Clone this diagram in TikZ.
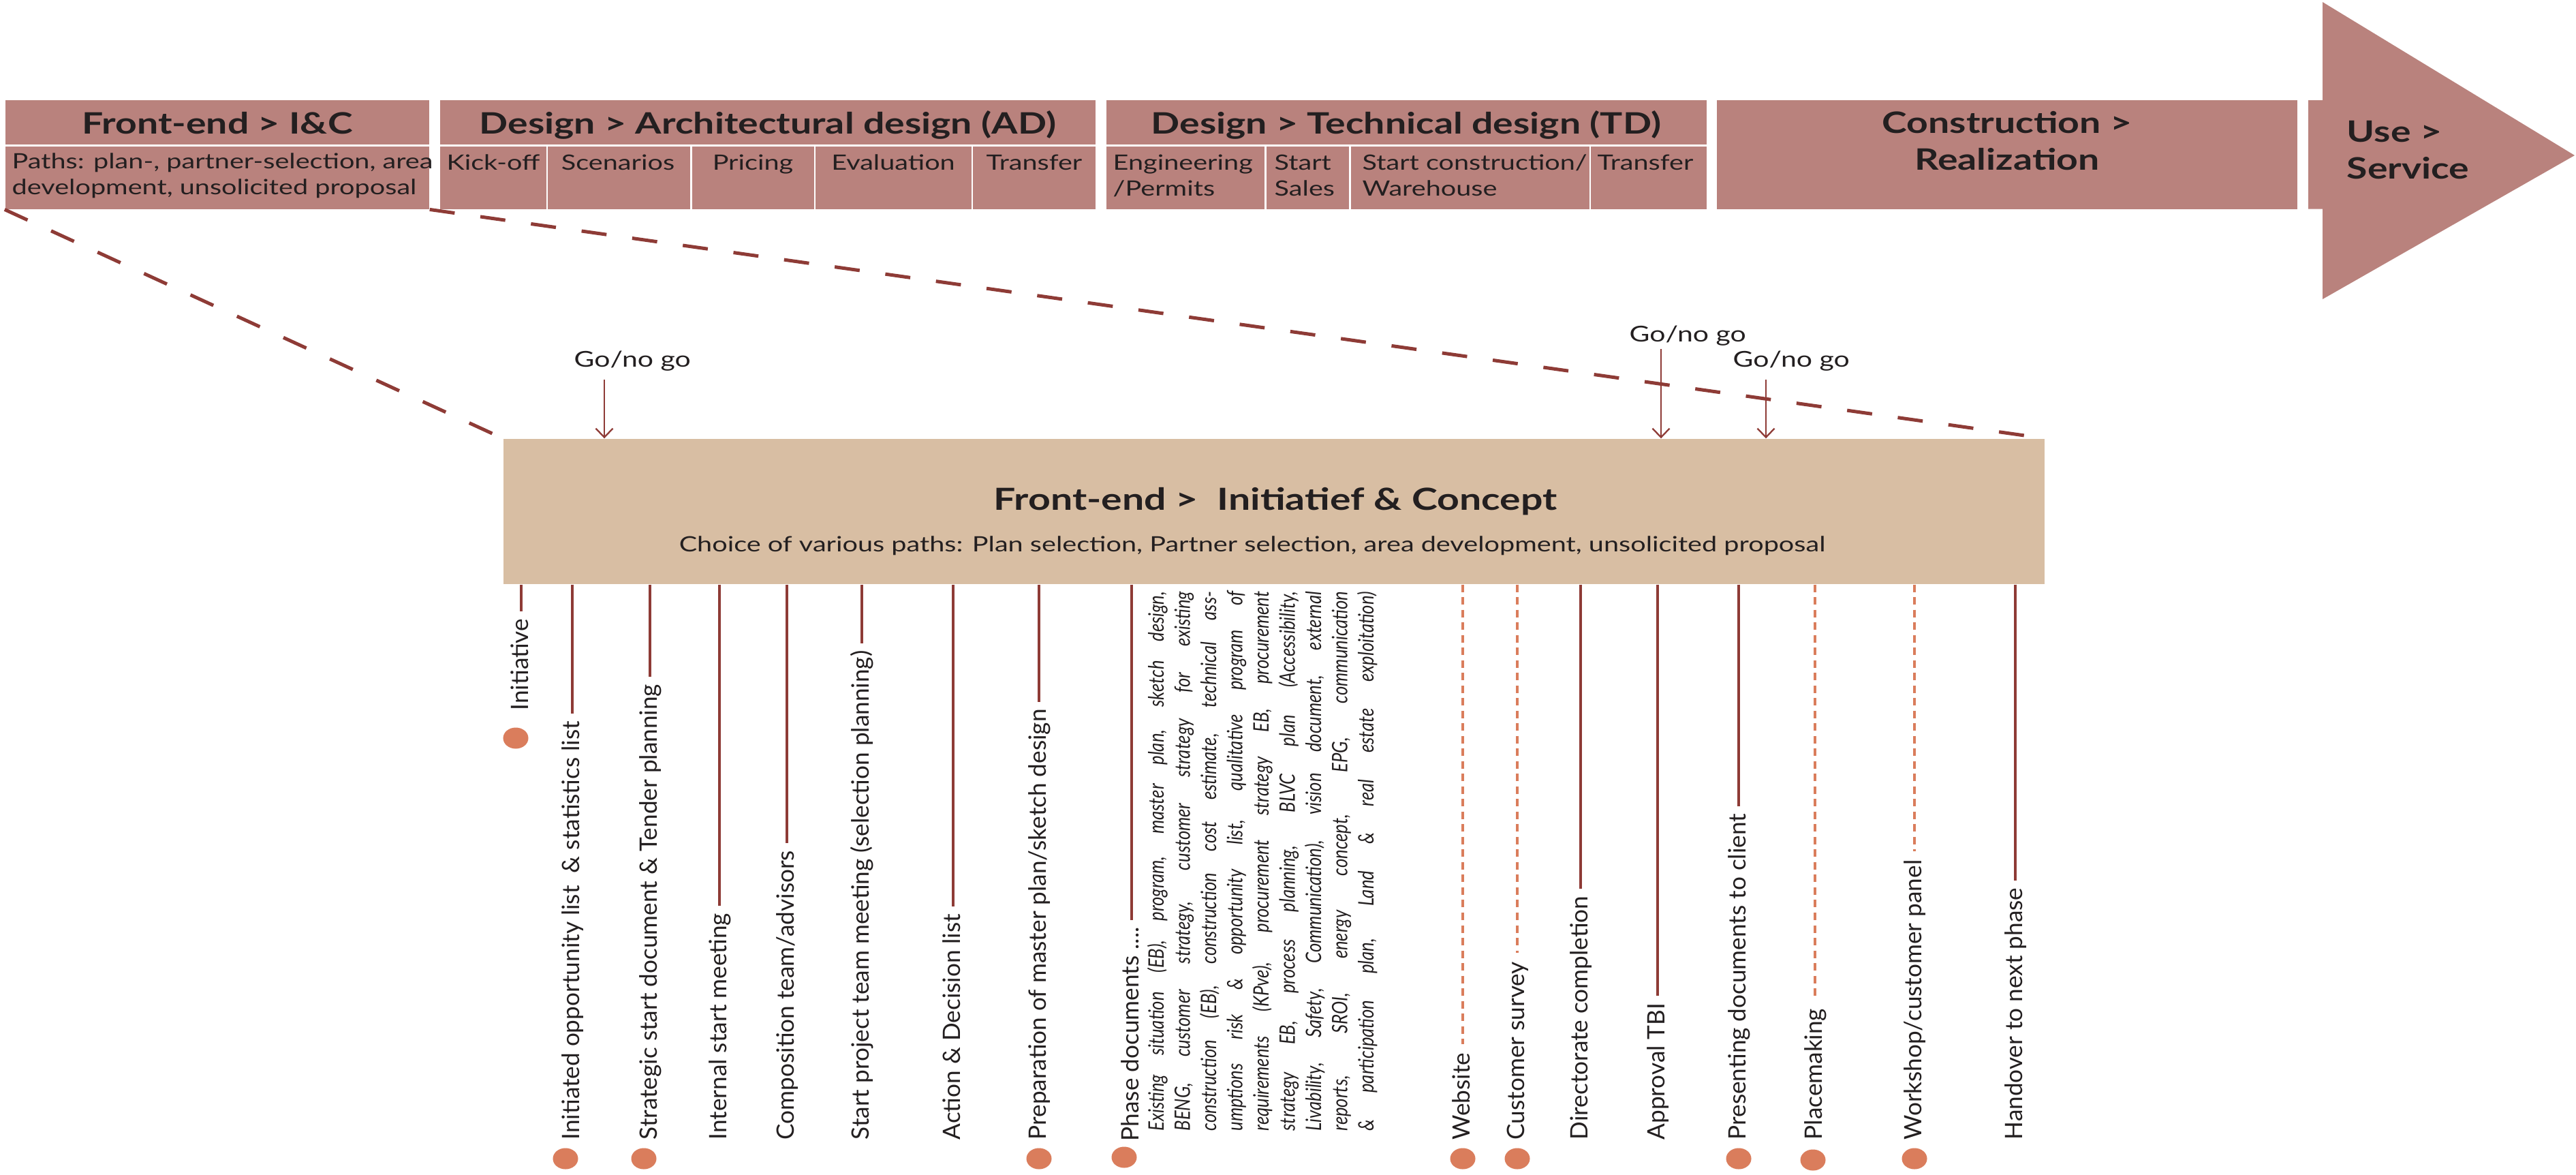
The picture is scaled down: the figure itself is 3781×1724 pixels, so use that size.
\documentclass[tikz,border=0pt]{standalone}
\usepackage{fontspec}
\setmainfont{Lato}
\newfontfamily\widefont[FakeStretch=1.28]{Lato}
\newfontfamily\narrowfont[FakeStretch=0.82]{Lato}
\usetikzlibrary{arrows.meta,shapes.geometric,fit}

\definecolor{barfill}{HTML}{B9827D}
\definecolor{boxfill}{HTML}{D8BEA3}
\definecolor{linered}{HTML}{8E3B36}
\definecolor{dotorange}{HTML}{DA7D5C}
\definecolor{ink}{HTML}{231F20}

% top-aligned block of lines whose baseline is the first line's baseline
\newcommand\stackl[2]{\begin{tabular}[t]{@{}#1@{}}#2\end{tabular}}
% one fully justified line of the phase documents list
\newcommand\jline[1]{\makebox[7.91cm][s]{#1}}

\tikzset{
  cell/.style={fill=barfill, draw=none, inner sep=0pt},
  hdr/.style={font=\widefont\bfseries\fontsize{12.3}{15.4}\selectfont, text=ink, inner sep=0pt},
  sub/.style={font=\widefont\fontsize{8.8}{10.9}\selectfont, text=ink, inner sep=0pt},
  ttl/.style={font=\widefont\bfseries\fontsize{12.7}{15}\selectfont, text=ink, inner sep=0pt, anchor=base},
  subttl/.style={font=\widefont\fontsize{8.8}{11}\selectfont, text=ink, inner sep=0pt, anchor=base},
  gng/.style={font=\widefont\fontsize{9.1}{11}\selectfont, text=ink, inner sep=0pt, anchor=base west},
  gngarrow/.style={draw=linered, line width=0.023cm, -{Straight Barb[length=0.13cm,width=0.25cm,line width=0.023cm]}},
  bigdash/.style={draw=linered, line width=0.05cm, dash pattern=on 0.37cm off 0.38cm},
  lab/.style={rotate=90, anchor=west, inner sep=0pt, text height=0.27cm, text depth=0.07cm,
              font=\fontsize{10}{12}\selectfont, text=ink},
  tick/.style={draw=linered, line width=0.035cm, shorten >=0.1cm},
  dtick/.style={draw=dotorange, line width=0.035cm, dash pattern=on 0.11cm off 0.075cm, shorten >=0.12cm},
  dot/.style={ellipse, fill=dotorange, draw=none, minimum width=0.37cm, minimum height=0.31cm, inner sep=0pt},
}

\begin{document}
\begin{tikzpicture}[x=0.01cm, y=-0.01cm]
\useasboundingbox (0,0) rectangle (3781,1724);

% ---------- phase bar ----------
% Front-end > I&C
\node[cell, fit={(7.5,147) (630,211.5)}] (b1h) {};
\node[cell, fit={(7.5,214.5) (630,306.7)}] (b1s) {};
% Design > AD
\node[cell, fit={(646,147) (1608.2,211.5)}] (b2h) {};
\node[cell, fit={(646,214.5) (801.8,306.7)}] (c21) {};
\node[cell, fit={(804.3,214.5) (1013.3,306.7)}] (c22) {};
\node[cell, fit={(1015.7,214.5) (1194.8,306.7)}] (c23) {};
\node[cell, fit={(1197.3,214.5) (1425.8,306.7)}] (c24) {};
\node[cell, fit={(1428.3,214.5) (1608.2,306.7)}] (c25) {};
% Design > TD
\node[cell, fit={(1624,147) (2504.5,211.5)}] (b3h) {};
\node[cell, fit={(1624,214.5) (1856,306.7)}] (c31) {};
\node[cell, fit={(1858.6,214.5) (1980.4,306.7)}] (c32) {};
\node[cell, fit={(1983,214.5) (2332.8,306.7)}] (c33) {};
\node[cell, fit={(2335.3,214.5) (2504.5,306.7)}] (c34) {};
% Construction
\node[cell, fit={(2520,147) (3372,306.7)}] (b4) {};
% Use > Service arrow
\fill[barfill] (3388,147) -- (3409,147) -- (3409,3) -- (3779,228) -- (3409,439)
  -- (3409,306.7) -- (3388,306.7) -- cycle;

% headings
\node[hdr, anchor=base] (h1) at (319,196) {Front-end > I\&C};
\node[hdr, anchor=base] (h2) at (1127,196) {Design > Architectural design (AD)};
\node[hdr, anchor=base] (h3) at (2064,196) {Design > Technical design (TD)};
\node[hdr, anchor=base] (h4) at (2946,195) {\stackl{c}{Construction >\\Realization}};
\node[hdr, anchor=base west, font=\widefont\bfseries\fontsize{12.3}{15.6}\selectfont] (h5) at (3444,208) {\stackl{l}{Use >\\Service}};

% sub cells
\node[sub, anchor=base west] (s1) at (17,247) {\stackl{l}{Paths: plan-, partner-selection, area\\development, unsolicited proposal}};
\node[sub, anchor=base] (s21) at (724,249) {Kick-off};
\node[sub, anchor=base] (s22) at (907,249) {Scenarios};
\node[sub, anchor=base] (s23) at (1105,249) {Pricing};
\node[sub, anchor=base] (s24) at (1311,249) {Evaluation};
\node[sub, anchor=base] (s25) at (1518,249) {Transfer};
\node[sub, anchor=base west] (s31) at (1633,249) {\stackl{l}{Engineering\\/Permits}};
\node[sub, anchor=base west] (s32) at (1870,249) {\stackl{l}{Start\\Sales}};
\node[sub, anchor=base west] (s33) at (1999,249) {\stackl{l}{Start construction/\\Warehouse}};
\node[sub, anchor=base west] (s34) at (2344,249) {Transfer};

% ---------- detail box ----------
\node[fill=boxfill, draw=none, inner sep=0pt, fit={(739,644) (3001,857)}] (main) {};
\node[ttl] (mt) at (1872,748) {Front-end >\ \ Initiatief \& Concept};
\node[subttl] (ms) at (1838,809) {Choice of various paths: Plan selection, Partner selection, area development, unsolicited proposal};

% zoom lines from the first phase to the detail box
\draw[bigdash] (b1s.south west) -- (main.north west);
\draw[bigdash] (b1s.south east) -- (main.north east);

% go / no go decisions
\node[gng] (g1) at (842,538) {Go/no go};
\node[gng] (g2) at (2391,501) {Go/no go};
\node[gng] (g3) at (2543,538) {Go/no go};
\coordinate (g1s) at (887,557);
\coordinate (g2s) at (2438,512);
\coordinate (g3s) at (2592,557);
\draw[gngarrow] (g1s) -- (g1s |- main.north);
\draw[gngarrow] (g2s) -- (g2s |- main.north);
\draw[gngarrow] (g3s) -- (g3s |- main.north);

% ---------- activities ----------
\node[lab] (l1) at (765,1043) {Initiative};
\node[lab] (l2) at (840,1673) {Initiated opportunity list\ \ \& statistics list};
\node[lab] (l3) at (954,1673) {Strategic start document \& Tender planning};
\node[lab] (l4) at (1056,1673) {Internal start meeting};
\node[lab] (l5) at (1155,1673) {Composition team/advisors};
\node[lab] (l6) at (1265,1673) {Start project team meeting (selection planning)};
\node[lab] (l7) at (1399,1673) {Action \& Decision list};
\node[lab] (l8) at (1525,1673) {Preparation of master plan/sketch design};
\node[lab] (l9) at (1661,1675) {Phase documents ....};
\node[lab] (l10) at (2147,1673) {Website};
\node[lab] (l11) at (2227,1673) {Customer survey};
\node[lab] (l12) at (2320,1673) {Directorate completion};
\node[lab] (l13) at (2433,1673) {Approval TBI};
\node[lab] (l14) at (2552,1673) {Presenting documents to client};
\node[lab] (l15) at (2664,1673) {Placemaking};
\node[lab] (l16) at (2810,1673) {Workshop/customer panel};
\node[lab] (l17) at (2958,1673) {Handover to next phase};

\foreach \n in {1,2,3,4,5,6,7,8,9,12,13,14,17}
  \draw[tick] (l\n.east |- main.south) -- (l\n.east);
\foreach \n in {10,11,15,16}
  \draw[dtick] (l\n.east |- main.south) -- (l\n.east);

% phase documents list
\node[rotate=90, anchor=base west, inner sep=0pt, text=ink] (pd) at (1708,1660)
  {\narrowfont\itshape\fontsize{8.9}{10.95}\selectfont
   \stackl{l}{%
   \jline{Existing situation (EB), program, master plan, sketch design,}\\
   \jline{BENG, customer strategy, customer strategy for existing}\\
   \jline{construction (EB), construction cost estimate, technical ass-}\\
   \jline{umptions risk \& opportunity list, qualitative program of}\\
   \jline{requirements (KPve), procurement strategy EB, procurement}\\
   \jline{strategy EB, process planning, BLVC plan (Accessibility,}\\
   \jline{Livability, Safety, Communication), vision document, external}\\
   \jline{reports, SROI, energy concept, EPG, communication}\\
   \jline{\& participation plan, Land \& real estate exploitation)}}};

% milestones
\node[dot] (d1) at (757,1083) {};
\node[dot] (d2) at (830,1700) {};
\node[dot] (d3) at (945,1700) {};
\node[dot] (d8) at (1525,1700) {};
\node[dot] (d9) at (1650,1698) {};
\node[dot] (d10) at (2147,1700) {};
\node[dot] (d11) at (2227,1700) {};
\node[dot] (d14) at (2552,1700) {};
\node[dot] (d15) at (2661,1702) {};
\node[dot] (d16) at (2810,1700) {};
\end{tikzpicture}
\end{document}
